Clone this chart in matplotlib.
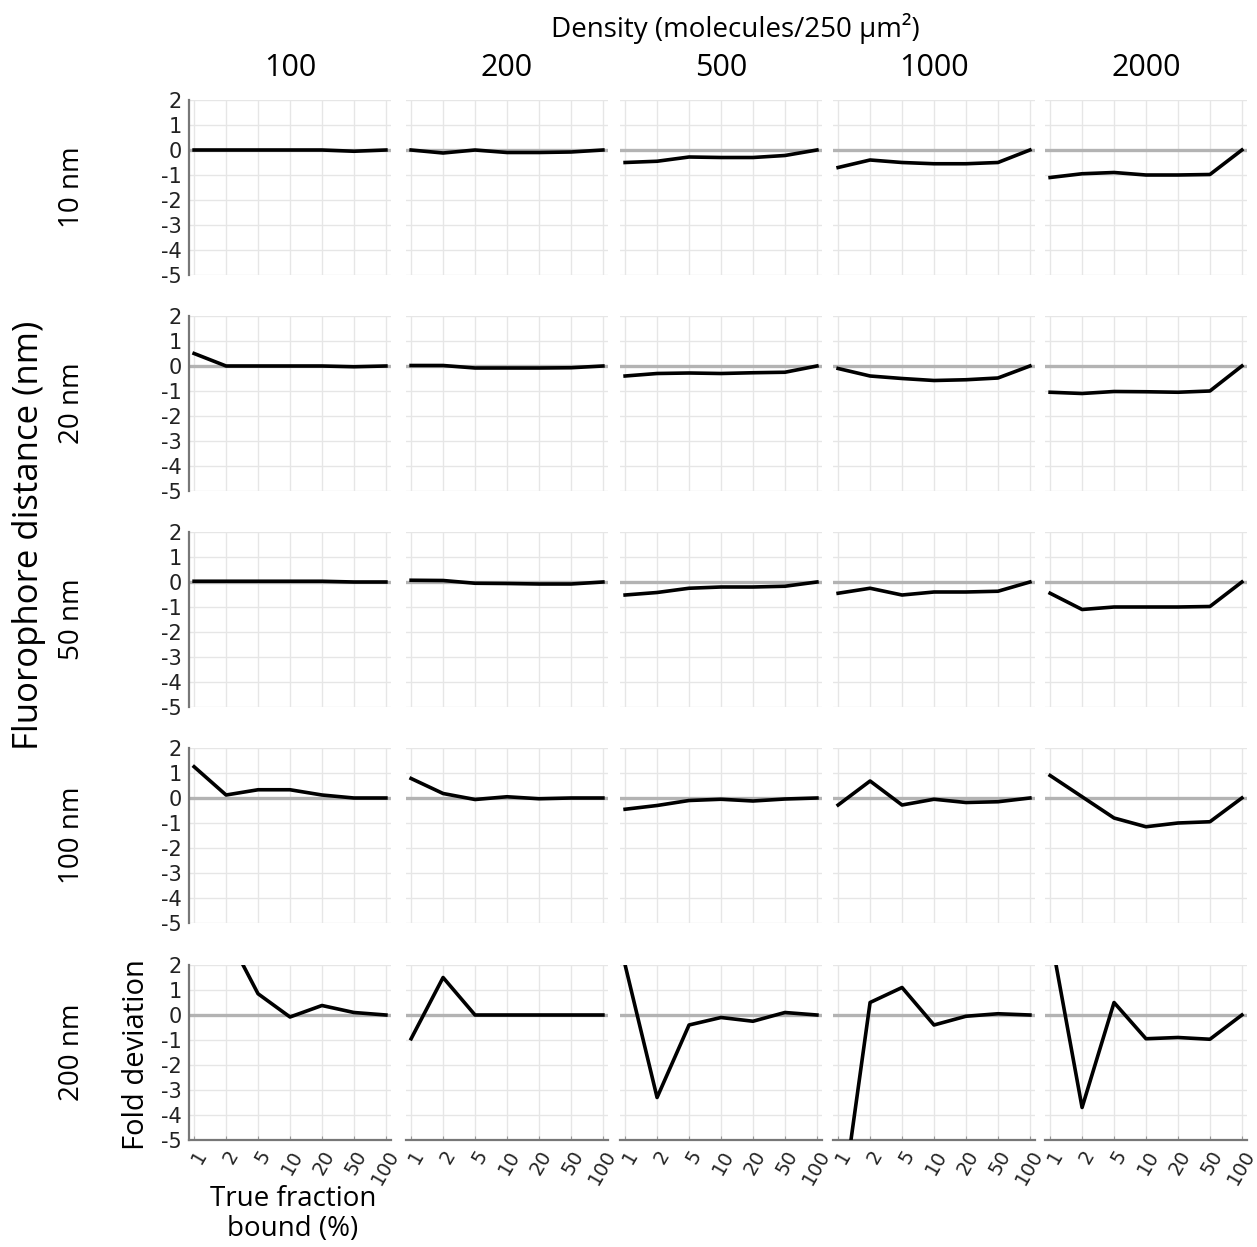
import numpy as np
import matplotlib
matplotlib.use("Agg")
import matplotlib.pyplot as plt

# categories and panel labels
fractions = ["1", "2", "5", "10", "20", "50", "100"]
densities = ["100", "200", "500", "1000", "2000"]
distances = ["10 nm", "20 nm", "50 nm", "100 nm", "200 nm"]

# fold deviation, one list per density, for each fluorophore distance
dev_10nm = [
    [0, 0, 0, 0, 0, -0.05, 0],
    [0, -0.12, 0, -0.1, -0.1, -0.08, 0],
    [-0.5, -0.45, -0.28, -0.3, -0.3, -0.22, 0],
    [-0.7, -0.4, -0.5, -0.55, -0.55, -0.5, 0],
    [-1.1, -0.95, -0.9, -1.0, -1.0, -0.98, 0],
]
dev_20nm = [
    [0.5, 0, 0, 0, 0, -0.03, 0],
    [0.02, 0.02, -0.08, -0.08, -0.08, -0.07, 0],
    [-0.4, -0.3, -0.28, -0.3, -0.27, -0.25, 0],
    [-0.1, -0.4, -0.5, -0.58, -0.55, -0.48, 0],
    [-1.05, -1.1, -1.02, -1.03, -1.05, -1.0, 0],
]
dev_50nm = [
    [0.03, 0.03, 0.03, 0.03, 0.03, 0, 0],
    [0.07, 0.06, -0.05, -0.06, -0.08, -0.08, 0],
    [-0.52, -0.42, -0.25, -0.2, -0.2, -0.17, 0],
    [-0.45, -0.25, -0.52, -0.4, -0.4, -0.37, 0],
    [-0.45, -1.1, -1.0, -1.0, -1.0, -0.98, 0],
]
dev_100nm = [
    [1.25, 0.12, 0.33, 0.33, 0.12, 0, 0],
    [0.78, 0.18, -0.06, 0.05, -0.03, 0, 0],
    [-0.45, -0.3, -0.1, -0.05, -0.12, -0.04, 0],
    [-0.28, 0.68, -0.28, -0.05, -0.18, -0.15, 0],
    [0.9, 0.05, -0.8, -1.15, -1.0, -0.95, 0],
]
dev_200nm = [
    [4.0, 3.3, 0.85, -0.08, 0.38, 0.1, 0],
    [-0.95, 1.5, 0, 0, 0, 0, 0],
    [2.0, -3.3, -0.4, -0.1, -0.25, 0.1, 0],
    [-8.7, 0.5, 1.1, -0.4, -0.05, 0.05, 0],
    [3.3, -3.7, 0.5, -0.95, -0.9, -0.97, 0],
]
all_dev = [dev_10nm, dev_20nm, dev_50nm, dev_100nm, dev_200nm]

W, H = 1257, 1247
fig = plt.figure(figsize=(W / 100, H / 100), dpi=100)

label_font = ["Open Sans", "DejaVu Sans"]

col_left = [189, 406, 620, 833, 1045]
row_top = [100, 316, 532, 748, 965]
ax_w, ax_h = 202, 175
x = np.arange(len(fractions))

for r in range(5):
    for c in range(5):
        ax = fig.add_axes([col_left[c] / W, 1 - (row_top[r] + ax_h) / H, ax_w / W, ax_h / H])
        ax.set_xlim(-0.16, 6.16)
        ax.set_ylim(-5, 2)
        ax.set_xticks(x)
        ax.set_yticks(range(-5, 3))
        ax.grid(True, color="#e6e6e6", lw=1)
        ax.set_axisbelow(True)
        ax.axhline(0, color="#b3b3b3", lw=2.4, zorder=2)
        ax.plot(x, all_dev[r][c], color="black", lw=2.6, zorder=3)
        for s in ["top", "right"]:
            ax.spines[s].set_visible(False)
        ax.spines["left"].set_visible(c == 0)
        ax.spines["bottom"].set_visible(r == 4)
        for s in ["left", "bottom"]:
            ax.spines[s].set_color("#777777")
            ax.spines[s].set_linewidth(1.6)
        ax.spines["left"].set_bounds(-5, 2)
        ax.tick_params(axis="y", length=0, pad=5, labelsize=15,
                       labelleft=(c == 0), labelcolor="#222222")
        ax.tick_params(axis="x", length=3 if r == 4 else 0, direction="in",
                       color="#999999", labelbottom=(r == 4), labelsize=14,
                       pad=5, labelcolor="#222222")
        if r == 4:
            ax.set_xticklabels(fractions, rotation=60, ha="right",
                               rotation_mode="anchor")
        if c == 0:
            ax.set_yticklabels([str(v) for v in range(-5, 3)])
        if r == 0:
            fig.text((col_left[c] + ax_w / 2) / W, 1 - 68 / H, densities[c],
                     ha="center", va="center", fontsize=22, family=label_font)
    fig.text(72 / W, 1 - (row_top[r] + ax_h / 2) / H, distances[r],
             rotation=90, ha="center", va="center", fontsize=20, family=label_font)

fig.text(735 / W, 1 - 28 / H, "Density (molecules/250 µm²)",
         ha="center", va="center", fontsize=20, family=label_font)
fig.text(29 / W, 1 - 535 / H, "Fluorophore distance (nm)",
         rotation=90, ha="center", va="center", fontsize=25, family=label_font)
fig.text(137 / W, 1 - 1055 / H, "Fold deviation",
         rotation=90, ha="center", va="center", fontsize=21, family=label_font)
fig.text(293 / W, 1 - 1214 / H, "True fraction\nbound (%)",
         ha="center", va="center", fontsize=20, family=label_font,
         linespacing=1.05)

fig.savefig("out.png", dpi=100)
